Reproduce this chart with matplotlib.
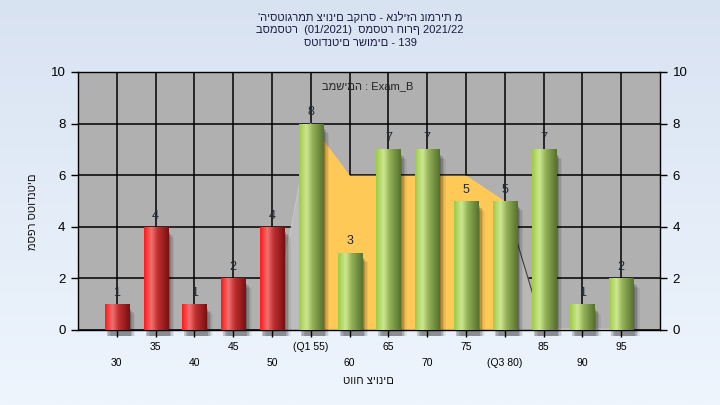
import numpy as np
import matplotlib
matplotlib.use("Agg")
import matplotlib.pyplot as plt
from matplotlib.colors import LinearSegmentedColormap
from matplotlib.patches import Rectangle

plt.rcParams['font.family'] = ['Liberation Sans', 'DejaVu Sans']

# ---- data ----
categories = ['30', '35', '40', '45', '50', '55', '60', '65', '70', '75', '80', '85', '90', '95']
tick_labels = ['30', '35', '40', '45', '50', '(Q1 55)', '60', '65', '70', '75', '(Q3 80)', '85', '90', '95']
counts = [1, 4, 1, 2, 4, 8, 3, 7, 7, 5, 5, 7, 1, 2]
band_values = [0, 0, 0, 0, 0, 8, 6, 6, 6, 6, 5, 0, 0, 0]
q1_index = 5
q3_index = 10
fail_categories = 5  # first bars drawn in red

title_lines = ["'היסטוגרמת ציונים בקורס - אנליזה נומרית מ",
               "בסמסטר  (01/2021)  סמסטר חורף 2021/22",
               "סטודנטים רשומים - 139"]
legend_text = "במשימה : Exam_B"
xlabel = "טווח ציונים"
ylabel = "מספר סטודנטים"

fig = plt.figure(figsize=(7.2, 4.05), dpi=100)

# background gradient
bg = fig.add_axes([0, 0, 1, 1], zorder=-10)
grad = np.linspace(0, 1, 256).reshape(-1, 1)
bg_cmap = LinearSegmentedColormap.from_list('bg', ['#D8E3F2', '#EEF5FD'])
bg.imshow(grad, extent=[0, 1, 0, 1], aspect='auto', cmap=bg_cmap, origin='upper')
bg.axis('off')

ax = fig.add_axes([78 / 720, 75 / 405, 582 / 720, 258 / 405])
ax.set_facecolor('#B0B0B0')
n = len(categories)
x = np.arange(n)
ax.set_xlim(-1, n)
ax.set_ylim(0, 10)

# grid
ax.set_axisbelow(True)
ax.set_yticks(np.arange(0, 11, 2))
ax.set_xticks(x[::2])
ax.set_xticklabels(tick_labels[::2])
ax.set_xticks(x[1::2], minor=True)
ax.set_xticklabels(tick_labels[1::2], minor=True)
ax.grid(True, which='both', color='black', lw=1.1, zorder=0)
ax.tick_params(axis='x', which='major', length=5, width=1, pad=14.8, labelsize=7.5)
ax.tick_params(axis='x', which='minor', length=5, width=1, pad=3.8, labelsize=7.5)
ax.tick_params(axis='y', which='major', length=5, width=1, pad=4, labelsize=9.5,
               right=True, labelright=True, left=True, labelleft=True)
for sp in ax.spines.values():
    sp.set_color('black')
    sp.set_linewidth(1)

# band area (Q1..Q3)
xb = x[q1_index:q3_index + 1]
yb = np.array(band_values[q1_index:q3_index + 1])
ax.fill_between(xb, 0, yb, color='#FFC957', zorder=1, lw=0)
# side slopes
ax.fill_between([q1_index - 1, q1_index], 0, [band_values[q1_index - 1], band_values[q1_index]],
                color='#BCBCBC', zorder=1, lw=0)
ax.plot([q1_index - 1, q1_index], [band_values[q1_index - 1], band_values[q1_index]],
        color='#C8C8C8', lw=0.8, zorder=1)
ax.fill_between([q3_index, q3_index + 1], 0, [band_values[q3_index], band_values[q3_index + 1]],
                color='#B8B8B8', zorder=1, lw=0)
ax.plot([q3_index, q3_index + 1], [band_values[q3_index], band_values[q3_index + 1]],
        color='#404040', lw=0.8, zorder=1)
ax.plot([q3_index + 1, n - 1 + 0.2], [0.03, 0.03], color='#E8E8E8', lw=1, zorder=1)

# bars with gradient and shadow
red_cmap = LinearSegmentedColormap.from_list('r', [(0, '#FF1A1A'), (0.3, '#F07070'), (0.55, '#C03030'), (1, '#7A1010')])
green_cmap = LinearSegmentedColormap.from_list('g', [(0, '#9ECB45'), (0.3, '#CDE792'), (0.55, '#93B157'), (1, '#56722E')])
hgrad = np.linspace(0, 1, 64).reshape(1, -1)
w = 0.62
for i, v in enumerate(counts):
    # shadow
    for k, a in enumerate([0.18, 0.14, 0.10, 0.06]):
        off = 0.05 + 0.04 * k
        sh = Rectangle((i - w / 2 + off, -0.25), w, v + 0.05 - 0.06 * k, color='black', alpha=a,
                       lw=0, zorder=2, clip_on=False)
        ax.add_patch(sh)
    rect = Rectangle((i - w / 2, 0), w, v, facecolor='none', lw=0, zorder=3)
    ax.add_patch(rect)
    cm = red_cmap if i < fail_categories else green_cmap
    im = ax.imshow(hgrad, extent=(i - w / 2, i + w / 2, 0, v), aspect='auto', cmap=cm, zorder=3,
                   interpolation='bilinear')
    im.set_clip_path(rect)
    ax.text(i, v + 0.2, str(v), ha='center', va='bottom', fontsize=9, color='#1E2A36', zorder=5)

ax.set_xlim(-1, n)
ax.set_ylim(0, 10)

# texts
for j, line in enumerate(title_lines):
    fig.text(0.5, 1 - (17 + 13 * j) / 405, line, ha='center', va='center', fontsize=8, color='#1A1A40')
fig.text(368 / 720, 1 - 86 / 405, legend_text, ha='center', va='center', fontsize=8, color='#222222')
fig.text(368 / 720, 1 - 381 / 405, xlabel, ha='center', va='center', fontsize=8, color='#111111')
fig.text(33 / 720, 1 - 212 / 405, ylabel, ha='center', va='center', fontsize=8, color='#111111', rotation=90)

fig.savefig('out.png', dpi=100)
